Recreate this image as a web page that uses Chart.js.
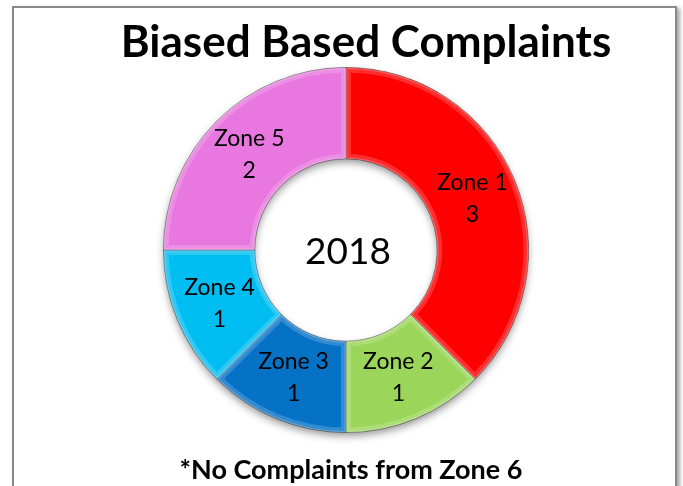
<!DOCTYPE html>
<html>
<head>
<meta charset="utf-8">
<script src="https://cdn.jsdelivr.net/npm/chart.js@4.4.1/dist/chart.umd.min.js"></script>
<style>
  html, body { margin: 0; padding: 0; background: #fff; overflow: hidden; }
  #frame {
    position: absolute; left: 12px; top: 6px; width: 661px; height: 520px;
    border: 2px solid #8a8a8a; box-shadow: 3px 2px 4px rgba(0,0,0,0.35);
  }
  #wrap { position: absolute; left: 0; top: 0; width: 683px; height: 486px; }
</style>
</head>
<body>
<div id="frame"></div>
<div id="wrap"><canvas id="chart" width="683" height="486"></canvas></div>
<script>
// chart values
const zones = ['Zone 1', 'Zone 2', 'Zone 3', 'Zone 4', 'Zone 5'];
const complaints = [3, 1, 1, 1, 2];
const zoneColors = ['#FF0000', '#9BD65A', '#0672C6', '#00BDF2', '#E877DF'];
const chartTitle = 'Biased Based Complaints';
const centerText = '2018';
const footNote = '*No Complaints from Zone 6';

// soft shadow under the ring
const ringShadow = {
  id: 'ringShadow',
  beforeDatasetsDraw(chart) {
    const arc = chart.getDatasetMeta(0).data[0];
    if (!arc) return;
    const ctx = chart.ctx;
    ctx.save();
    ctx.shadowColor = 'rgba(0,0,0,0.45)';
    ctx.shadowBlur = 8;
    ctx.shadowOffsetY = 4;
    ctx.fillStyle = '#fff';
    ctx.beginPath();
    ctx.arc(arc.x, arc.y, arc.outerRadius - 1, 0, Math.PI * 2);
    ctx.arc(arc.x, arc.y, arc.innerRadius + 1, Math.PI * 2, 0, true);
    ctx.fill();
    ctx.restore();
  }
};

// bevel highlight + labels + texts
const decorations = {
  id: 'decorations',
  afterDatasetsDraw(chart) {
    const ctx = chart.ctx;
    const meta = chart.getDatasetMeta(0);
    meta.data.forEach((arc) => {
      ctx.save();
      ctx.beginPath();
      ctx.arc(arc.x, arc.y, arc.outerRadius, arc.startAngle, arc.endAngle);
      ctx.arc(arc.x, arc.y, arc.innerRadius, arc.endAngle, arc.startAngle, true);
      ctx.closePath();
      ctx.clip();
      ctx.lineWidth = 10;
      ctx.strokeStyle = 'rgba(255,255,255,0.18)';
      ctx.stroke();
      ctx.lineWidth = 3;
      ctx.strokeStyle = 'rgba(255,255,255,0.22)';
      ctx.stroke();
      ctx.restore();
    });

    ctx.save();
    ctx.fillStyle = '#000';
    ctx.textAlign = 'center';
    ctx.textBaseline = 'middle';
    ctx.font = '23px Lato';
    meta.data.forEach((arc, i) => {
      const p = arc.tooltipPosition();
      ctx.fillText(zones[i], p.x, p.y - 15);
      ctx.fillText(String(complaints[i]), p.x, p.y + 17);
    });

    const c = meta.data[0];
    ctx.font = '37px Lato';
    ctx.fillText(centerText, c.x + 2, c.y + 2);

    ctx.textBaseline = 'alphabetic';
    ctx.font = 'bold 44px Lato';
    ctx.fillText(chartTitle, 366, 57);
    ctx.font = 'bold 27px Lato';
    ctx.fillText(footNote, 351, 479);
    ctx.restore();
  }
};

new Chart(document.getElementById('chart'), {
  type: 'doughnut',
  data: {
    labels: zones,
    datasets: [{
      data: complaints,
      backgroundColor: zoneColors,
      borderColor: 'rgba(0,0,0,0.45)',
      borderWidth: 1
    }]
  },
  options: {
    responsive: false,
    animation: false,
    cutout: '50%',
    layout: { padding: { top: 67, bottom: 53, left: 163, right: 154 } },
    plugins: {
      legend: { display: false },
      tooltip: { enabled: false },
      title: { display: false }
    }
  },
  plugins: [ringShadow, decorations]
});
</script>
</body>
</html>
